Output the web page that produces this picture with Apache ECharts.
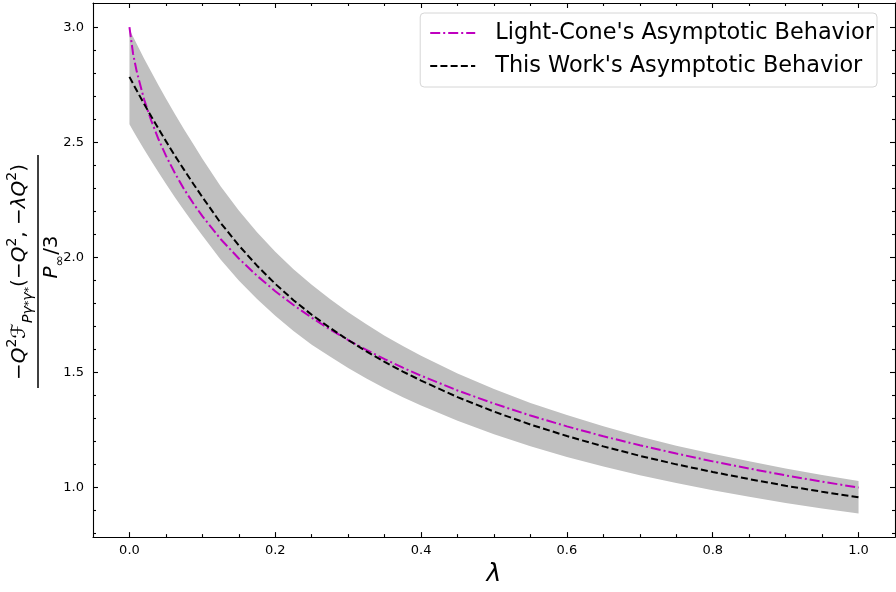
<!DOCTYPE html>
<html><head><meta charset="utf-8">
<script src="https://cdn.jsdelivr.net/npm/echarts@6/dist/echarts.min.js"></script>
<style>html,body{margin:0;padding:0;background:#fff}#c{width:896px;height:592px}</style>
</head><body><div id="c"></div>
<script>
// ---- data ----
const lambda = [0, 0.005, 0.01, 0.02, 0.03, 0.04, 0.05, 0.0625, 0.075, 0.0875,
  0.1, 0.125, 0.15, 0.175, 0.2, 0.225, 0.25, 0.275, 0.3, 0.325,
  0.35, 0.375, 0.4, 0.45, 0.5, 0.55, 0.6, 0.65, 0.7, 0.75,
  0.8, 0.85, 0.9, 0.95, 1.0];
const lightCone = [3.0, 2.884, 2.807, 2.687, 2.593, 2.512, 2.442, 2.365, 2.296, 2.235,
  2.179, 2.080, 1.995, 1.920, 1.853, 1.793, 1.738, 1.687, 1.641, 1.598,
  1.558, 1.521, 1.486, 1.422, 1.365, 1.313, 1.266, 1.223, 1.184, 1.148,
  1.114, 1.083, 1.053, 1.026, 1.0];
const thisWork = [2.784, 2.754, 2.725, 2.667, 2.612, 2.558, 2.505, 2.441, 2.380, 2.320,
  2.262, 2.150, 2.052, 1.964, 1.885, 1.814, 1.751, 1.694, 1.641, 1.592,
  1.546, 1.504, 1.465, 1.393, 1.330, 1.274, 1.224, 1.179, 1.138, 1.101,
  1.068, 1.037, 1.008, 0.982, 0.958];
const bandUpper = [2.990, 2.958, 2.927, 2.864, 2.805, 2.747, 2.690, 2.622, 2.556, 2.492,
  2.429, 2.309, 2.204, 2.109, 2.024, 1.948, 1.881, 1.819, 1.762, 1.710,
  1.660, 1.615, 1.573, 1.496, 1.428, 1.368, 1.315, 1.266, 1.222, 1.182,
  1.147, 1.114, 1.083, 1.055, 1.029];
const bandLower = [2.578, 2.550, 2.523, 2.470, 2.419, 2.369, 2.320, 2.260, 2.204, 2.148,
  2.095, 1.991, 1.900, 1.819, 1.746, 1.680, 1.621, 1.569, 1.520, 1.474,
  1.432, 1.393, 1.357, 1.290, 1.232, 1.180, 1.133, 1.092, 1.054, 1.020,
  0.989, 0.960, 0.933, 0.909, 0.887];
const seriesNames = ["Light-Cone's Asymptotic Behavior", "This Work's Asymptotic Behavior"];
const xMajor = [0, 0.2, 0.4, 0.6, 0.8, 1.0];
const xMinor = [0.05, 0.1, 0.15, 0.25, 0.3, 0.35, 0.45, 0.5, 0.55, 0.65, 0.7, 0.75, 0.85, 0.9, 0.95];
const yMajor = [1.0, 1.5, 2.0, 2.5, 3.0];
const yMinor = [0.8, 0.9, 1.1, 1.2, 1.3, 1.4, 1.6, 1.7, 1.8, 1.9, 2.1, 2.2, 2.3, 2.4, 2.6, 2.7, 2.8, 2.9];
const xName = 'λ';

// ---- chart ----
const F = 'DejaVu Sans';
const X_MIN = -0.05, X_MAX = 1.05, Y_MIN = 0.785, Y_MAX = 3.105;
const chart = echarts.init(document.getElementById('c'), null, {renderer: 'canvas'});

function axis(kind, pos, ticks, len, showLine, labels) {
  const a = {
    type: 'value', position: pos, gridIndex: 0,
    min: kind === 'x' ? X_MIN : Y_MIN, max: kind === 'x' ? X_MAX : Y_MAX,
    axisLine: {show: showLine, onZero: false, lineStyle: {color: '#000', width: 1.1}},
    axisTick: {show: true, inside: true, length: len, customValues: ticks, lineStyle: {color: '#000', width: 1.1}},
    axisLabel: {show: !!labels},
    splitLine: {show: false},
    z: 10
  };
  if (labels) {
    a.axisLabel = {show: true, customValues: ticks, formatter: v => Number(v).toFixed(1),
      fontSize: 13, fontFamily: F, color: '#000', margin: kind === 'x' ? 7 : 9};
  }
  return a;
}

const xAxes = [
  axis('x', 'bottom', xMajor, 5, true, true),
  axis('x', 'bottom', xMinor, 3, false, false),
  axis('x', 'top', xMajor, 5, true, false),
  axis('x', 'top', xMinor, 3, false, false)
];
xAxes[0].name = xName;
xAxes[0].nameLocation = 'middle';
xAxes[0].nameGap = 22;
xAxes[0].nameTextStyle = {fontSize: 25, fontStyle: 'italic', fontFamily: F, color: '#000'};

const yAxes = [
  axis('y', 'left', yMajor, 5, true, true),
  axis('y', 'left', yMinor, 3, false, false),
  axis('y', 'right', yMajor, 5, true, false),
  axis('y', 'right', yMinor, 3, false, false)
];

const pts = arr => lambda.map((x, i) => [x, arr[i]]);

const rich = {
  n: {fontSize: 20, fontFamily: F, lineHeight: 30, verticalAlign: 'middle', color: '#000'},
  i: {fontSize: 20, fontFamily: F, fontStyle: 'italic', lineHeight: 30, verticalAlign: 'middle', color: '#000'},
  sup: {fontSize: 14, fontFamily: F, lineHeight: 16, verticalAlign: 'top', color: '#000'},
  sub: {fontSize: 14, fontFamily: F, fontStyle: 'italic', lineHeight: 17, verticalAlign: 'bottom', color: '#000'},
  ss: {fontSize: 11, fontFamily: F, lineHeight: 24, verticalAlign: 'bottom', color: '#000'}
};
const numText = '{n|−}{i|Q}{sup|2}{i|ℱ}{sub|Pγ}{ss|*}{sub|γ}{ss|*}{n|(−}{i|Q}{sup|2}{n|, −}{i|λQ}{sup|2}{n|)}';
const denText = '{i|P}{sub|∞}{n|/3}';

chart.setOption({
  animation: false,
  backgroundColor: '#fff',
  grid: {left: 93, right: 1, top: 3, bottom: 54, containLabel: false},
  xAxis: xAxes,
  yAxis: yAxes,
  legend: {
    orient: 'vertical', right: 19, top: 13,
    data: seriesNames,
    itemWidth: 45, itemHeight: 22, itemGap: 11,
    padding: [9, 3, 10, 9],
    borderColor: '#d6d6d6', borderWidth: 1, borderRadius: 4,
    backgroundColor: '#fff',
    itemStyle: {opacity: 0},
    textStyle: {fontSize: 22.4, lineHeight: 22, fontFamily: F, color: '#000', padding: [0, 0, 0, 15]},
    z: 20
  },
  graphic: [{
    type: 'group', x: 38, y: 271, rotation: Math.PI / 2,
    children: [
      {type: 'line', shape: {x1: -117, y1: 0, x2: 116, y2: 0}, style: {stroke: '#000', lineWidth: 1.5}},
      {type: 'text', x: -1, y: -18, style: {text: numText, rich: rich, align: 'center', verticalAlign: 'middle'}},
      {type: 'text', x: 14, y: 14, style: {text: denText, rich: rich, align: 'center', verticalAlign: 'middle'}}
    ]
  }],
  series: [
    {name: 'band', type: 'custom', silent: true, z: 1,
     data: lambda.map((x, i) => [x, bandLower[i], bandUpper[i]]),
     encode: {x: 0, y: [1, 2]},
     renderItem: (params, api) => {
       if (params.dataIndex !== 0) return null;
       const up = lambda.map((x, i) => api.coord([x, bandUpper[i]]));
       const lo = lambda.map((x, i) => api.coord([x, bandLower[i]])).reverse();
       return {type: 'polygon', shape: {points: up.concat(lo)}, style: {fill: '#c0c0c0', stroke: null}};
     }},
    {name: seriesNames[0], type: 'line', data: pts(lightCone), symbol: 'none', z: 3,
     lineStyle: {color: '#bf00bf', width: 2, type: [10, 3, 2, 3]}, itemStyle: {color: '#bf00bf'}},
    {name: seriesNames[1], type: 'line', data: pts(thisWork), symbol: 'none', z: 4,
     lineStyle: {color: '#000', width: 2, type: [7, 3.2]}, itemStyle: {color: '#000'}}
  ]
});
</script>
</body></html>
